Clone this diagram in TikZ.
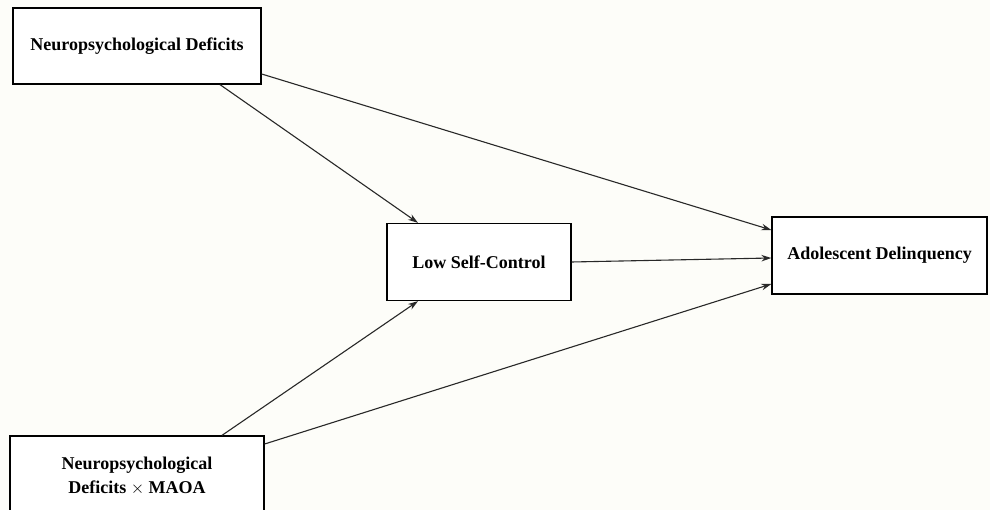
\documentclass[tikz,border=0pt]{standalone}
\usepackage{fontspec}
\setmainfont{Liberation Serif}
\usepackage{tikz}
\usetikzlibrary{arrows.meta}

\tikzset{
  varbox/.style={draw,line width=1.3pt,fill=white,align=center,font=\fontsize{18}{24}\selectfont\bfseries,inner sep=0pt},
  path/.style={->,line width=1.1pt,draw={rgb,255:red,40;green,40;blue,40}}
}

\begin{document}
\begin{tikzpicture}[x=1pt,y=1pt,>={Stealth[length=10pt,width=6.5pt]}]
\useasboundingbox (0,0) rectangle (990,510);
\fill[fill={rgb,255:red,253;green,253;blue,249}] (0,0) rectangle (990,510);
\clip (0,0) rectangle (990,510);
% variables
\node[varbox,minimum width=248pt,minimum height=76pt] (npd) at (137,464) {Neuropsychological Deficits};
\node[varbox,minimum width=184pt,minimum height=77pt] (lsc) at (479,248) {Low Self-Control};
\node[varbox,minimum width=215pt,minimum height=77pt] (del) at (879.5,254.5) {Adolescent Delinquency};
\node[varbox,minimum width=254pt,minimum height=80pt] (npm) at (137,34) {Neuropsychological\\Deficits $\times$ MAOA};
% paths
\draw[path] ([xshift=83pt]npd.south) -- ([xshift=-61pt]lsc.north);
\draw[path] ([yshift=-28pt]npd.east) -- ([yshift=25.5pt]del.west);
\draw[path] (lsc.east) -- ([yshift=-2.5pt]del.west);
\draw[path] ([xshift=85pt]npm.north) -- ([xshift=-61pt]lsc.south);
\draw[path] ([yshift=32pt]npm.east) -- ([yshift=-28.5pt]del.west);
\end{tikzpicture}
\end{document}
